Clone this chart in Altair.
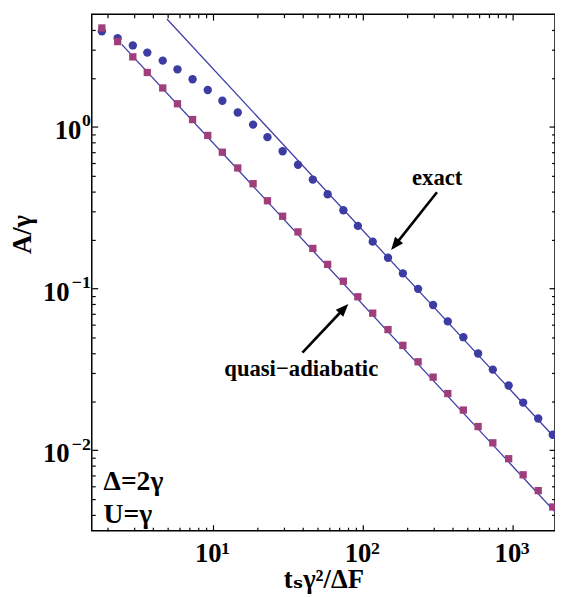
import altair as alt
import pandas as pd

# ---------------- data ----------------
x_vals = [1.82, 2.32, 2.93, 3.66, 4.64, 5.82, 7.34, 9.27, 11.6, 14.7, 18.6, 23.2,
          29.3, 37.1, 46.6, 58.5, 74.5, 93.1, 117, 148, 186, 235, 296, 371, 471,
          591, 741, 945, 1181, 1489, 1862]
exact_y = [3.90, 3.54, 3.19, 2.88, 2.57, 2.27, 1.97, 1.69, 1.45, 1.228, 1.033,
           0.864, 0.707, 0.583, 0.472, 0.383, 0.305, 0.244, 0.195, 0.155, 0.124,
           0.0995, 0.0791, 0.0626, 0.0500, 0.0396, 0.0315, 0.0251, 0.0197,
           0.0157, 0.01245]
quasi_y = [4.09, 3.37, 2.71, 2.17, 1.74, 1.39, 1.11, 0.885, 0.697, 0.557, 0.445,
           0.349, 0.280, 0.224, 0.177, 0.141, 0.111, 0.0889, 0.0704, 0.0557,
           0.0445, 0.0352, 0.0283, 0.0224, 0.0177, 0.0140, 0.0111, 0.00885,
           0.00704, 0.00562, 0.00445]

# fitted power-law lines (end points)
exact_line_x = [4.95, 1927]
exact_line_y = [4.65, 0.0119]
quasi_line_x = [2.47, 1927]
quasi_line_y = [3.24, 0.00415]

# axes
x_domain = [1.559, 1927]
y_domain = [0.003177, 4.977]
x_major_ticks = [10, 100, 1000]
x_tick_exponents = ["1", "2", "3"]
x_minor_ticks = [2, 3, 4, 5, 6, 7, 8, 9, 20, 30, 40, 50, 60, 70, 80, 90,
                 200, 300, 400, 500, 600, 700, 800, 900]
y_major_ticks = [0.01, 0.1, 1]
y_tick_exponents = ["−2", "−1", "0"]
y_minor_ticks = [0.004, 0.005, 0.006, 0.007, 0.008, 0.009,
                 0.02, 0.03, 0.04, 0.05, 0.06, 0.07, 0.08, 0.09,
                 0.2, 0.3, 0.4, 0.5, 0.6, 0.7, 0.8, 0.9, 2, 3, 4]
tick_base = "10"

# annotations
label_text = ["exact", "quasi−adiabatic"]
label_x = [315, 39.0]
label_y = [0.437, 0.0288]
param_text = ["Δ=2γ", "U=γ"]
param_x = [1.87, 1.87]
param_y = [0.00567, 0.00355]
arrow_tail_x = [314, 39.7]
arrow_tail_y = [0.394, 0.0401]
arrow_shaft_end_x = [167.4, 73.9]
arrow_shaft_end_y = [0.1889, 0.0739]
arrow_tip_x = [155.2, 80.4]
arrow_tip_y = [0.173, 0.0802]
arrow_angle = [218.5, 43.4]

# ---------------- styling ----------------
FONT = "'Liberation Serif', 'Times New Roman', 'DejaVu Serif', serif"
W, H = 470, 524
BLUE = "#3c3ca3"
LINE_BLUE = "#3d3da8"
MAUVE = "#9e3f7c"
BASE_SIZE = 27
EXP_SIZE = 18

xscale = alt.Scale(type="log", domain=x_domain, nice=False)
yscale = alt.Scale(type="log", domain=y_domain, nice=False)


def label_expr(values, labels):
    parts = [f"abs(datum.value - {v}) < {v * 1e-3} ? '{l}'" for v, l in zip(values, labels)]
    return " : ".join(parts) + " : ''"


def tick_axis(orient, values, size, offset):
    return alt.Axis(orient=orient, values=values, labels=False, ticks=True,
                    tickSize=size, tickWidth=1.2, tickColor="black",
                    domain=False, grid=False, title=None, offset=offset)


def label_axis(orient, values, text, size, padding, offset, align, **kw):
    return alt.Axis(orient=orient, values=values, labelExpr=text,
                    ticks=False, tickSize=0, domain=False, grid=False,
                    labelFont=FONT, labelFontSize=size, labelFontWeight="bold",
                    labelColor="black", labelPadding=padding, labelOffset=offset,
                    labelAlign=align, labelBaseline="alphabetic",
                    labelOverlap=False, labelFlush=False, **kw)


x_base_axis = label_axis("bottom", x_major_ticks, f"'{tick_base}'", BASE_SIZE, 31, -5,
                         "center",
                         title="tₛγ²/ΔF", titleFont=FONT, titleFontSize=27,
                         titleFontWeight="bold", titleColor="black",
                         titleY=58, titleBaseline="alphabetic")
x_exp_axis = label_axis("bottom", x_major_ticks,
                        label_expr(x_major_ticks, x_tick_exponents),
                        EXP_SIZE, 23, 8, "left", title=None)
y_base_axis_a = label_axis("left", y_major_ticks[:2], f"'{tick_base}'", BASE_SIZE, 23, 12,
                           "right",
                           title="A/γ", titleFont=FONT, titleFontSize=27,
                           titleFontWeight="bold", titleColor="black",
                           titleX=-70, titleY=223, titleAlign="center",
                           titleBaseline="middle", titleAngle=270)
y_base_axis_b = label_axis("left", y_major_ticks[2:], f"'{tick_base}'", BASE_SIZE, 11, 12,
                           "right", title=None)
y_exp_axis = label_axis("left", y_major_ticks,
                        label_expr(y_major_ticks, y_tick_exponents),
                        EXP_SIZE, 1.5, -1, "right", title=None)

pts = pd.DataFrame({"x": x_vals, "exact": exact_y, "quasi": quasi_y})
exact_line = pd.DataFrame({"x": exact_line_x, "y": exact_line_y})
quasi_line = pd.DataFrame({"x": quasi_line_x, "y": quasi_line_y})
labels_df = pd.DataFrame({"x": label_x, "y": label_y, "t": label_text})
params_df = pd.DataFrame({"x": param_x, "y": param_y, "t": param_text})
arrows_df = pd.DataFrame({"x": arrow_tail_x, "y": arrow_tail_y,
                          "x2": arrow_shaft_end_x, "y2": arrow_shaft_end_y,
                          "tx": arrow_tip_x, "ty": arrow_tip_y,
                          "angle": arrow_angle})

l_exact_line = alt.Chart(exact_line).mark_line(color=LINE_BLUE, strokeWidth=1.3).encode(
    x=alt.X("x:Q", scale=xscale, axis=x_base_axis),
    y=alt.Y("y:Q", scale=yscale, axis=y_base_axis_a),
)
l_quasi_line = alt.Chart(quasi_line).mark_line(color=LINE_BLUE, strokeWidth=1.3).encode(
    x=alt.X("x:Q", scale=xscale, axis=tick_axis("top", x_major_ticks, 6, -H)),
    y=alt.Y("y:Q", scale=yscale, axis=tick_axis("right", y_major_ticks, 6, -W)),
)
l_circles = alt.Chart(pts).mark_point(shape="circle", filled=True, size=72,
                                      color=BLUE, opacity=1).encode(
    x=alt.X("x:Q", scale=xscale, axis=tick_axis("top", x_minor_ticks, 3.5, -H)),
    y=alt.Y("exact:Q", scale=yscale, axis=tick_axis("right", y_minor_ticks, 3.5, -W)),
)
l_squares = alt.Chart(pts).mark_point(shape="square", filled=True, size=55,
                                      color=MAUVE, opacity=1).encode(
    x=alt.X("x:Q", scale=xscale, axis=tick_axis("bottom", x_major_ticks, 6, -H)),
    y=alt.Y("quasi:Q", scale=yscale, axis=tick_axis("left", y_major_ticks, 6, -W)),
)
l_shafts = alt.Chart(arrows_df).mark_rule(color="black", strokeWidth=2.6).encode(
    x=alt.X("x:Q", scale=xscale, axis=tick_axis("bottom", x_minor_ticks, 3.5, -H)),
    y=alt.Y("y:Q", scale=yscale, axis=tick_axis("left", y_minor_ticks, 3.5, -W)),
    x2="x2:Q", y2="y2:Q",
)
l_heads = alt.Chart(arrows_df).mark_point(shape="M0,0L-0.4,1L0.4,1Z", filled=True,
                                          size=676, color="black", opacity=1).encode(
    x=alt.X("tx:Q", scale=xscale, axis=x_exp_axis),
    y=alt.Y("ty:Q", scale=yscale, axis=y_exp_axis),
    angle=alt.Angle("angle:Q", scale=None),
)
l_labels = alt.Chart(labels_df).mark_text(font=FONT, fontSize=23, fontWeight="bold",
                                          color="black", align="center",
                                          baseline="alphabetic").encode(
    x=alt.X("x:Q", scale=xscale, axis=None),
    y=alt.Y("y:Q", scale=yscale, axis=y_base_axis_b),
    text="t:N",
)
l_params = alt.Chart(params_df).mark_text(font=FONT, fontSize=28, fontWeight="bold",
                                          color="black", align="left",
                                          baseline="alphabetic").encode(
    x=alt.X("x:Q", scale=xscale, axis=None),
    y=alt.Y("y:Q", scale=yscale, axis=None),
    text="t:N",
)

chart = alt.layer(
    l_exact_line, l_quasi_line, l_circles, l_squares, l_shafts, l_heads,
    l_labels, l_params,
).resolve_axis(x="independent", y="independent").properties(
    width=W, height=H,
    autosize=alt.AutoSizeParams(type="none"),
    padding={"left": 85, "top": 2, "right": 0, "bottom": 62},
).configure_view(stroke="black", strokeWidth=1.5)

chart.save("out.html", embed_options={"renderer": "svg", "actions": False})
